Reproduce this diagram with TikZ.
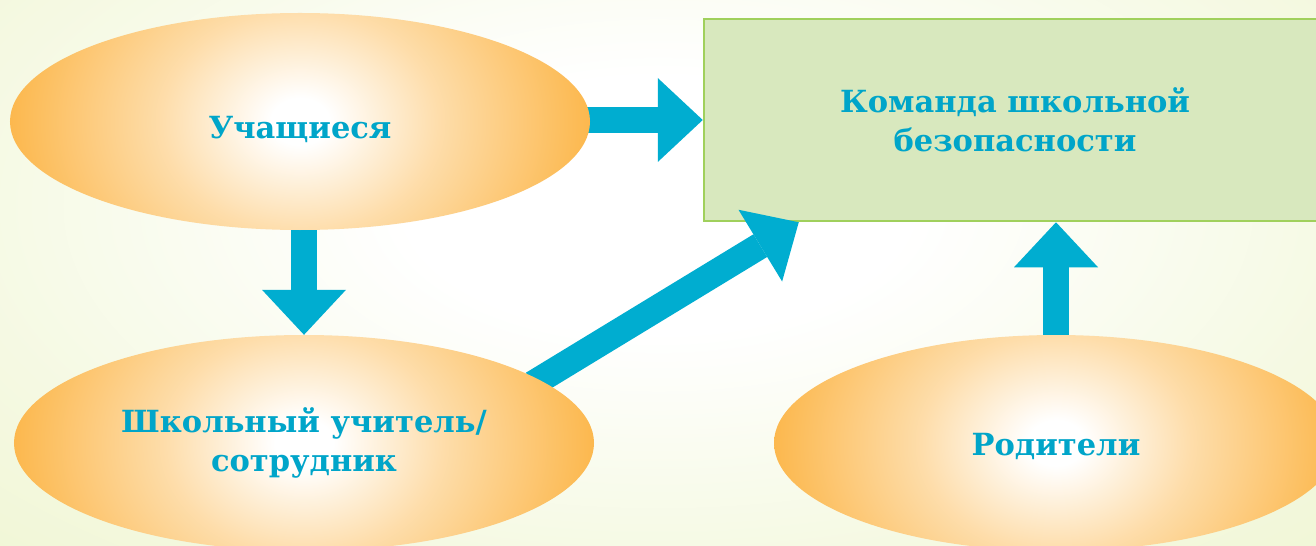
\documentclass[tikz,border=0pt]{standalone}
\usepackage{fontspec}
\setmainfont{DejaVu Serif}
\usetikzlibrary{arrows.meta,shapes.geometric,calc}

\definecolor{bggreen}{RGB}{240,246,212}
\definecolor{ovalorange}{RGB}{252,184,78}
\definecolor{arrowblue}{RGB}{0,173,208}
\definecolor{textblue}{RGB}{0,165,201}
\definecolor{boxfill}{RGB}{216,232,190}
\definecolor{boxline}{RGB}{160,208,92}

\pgfdeclareradialshading{ovalshade}{\pgfpoint{0bp}{0bp}}{color(0bp)=(white); color(2.5bp)=(white); color(12bp)=(ovalorange!48!white); color(25bp)=(ovalorange); color(50bp)=(ovalorange)}
\pgfdeclareradialshading{backshade}{\pgfpoint{0bp}{0bp}}{color(0bp)=(white); color(9bp)=(white); color(25bp)=(bggreen!65!white); color(36bp)=(bggreen); color(50bp)=(bggreen)}

\pgfdeclarelayer{back}
\pgfdeclarelayer{boxlayer}
\pgfdeclarelayer{arrowlayer}
\pgfsetlayers{back,boxlayer,arrowlayer,main}

\tikzset{
	labelfont/.style={text=textblue, font=\bfseries\fontsize{30.5bp}{38.5bp}\selectfont, align=center},
	oval/.style={ellipse, inner sep=0pt, labelfont,
		path picture={\shade[shading=ovalshade] (path picture bounding box.center)
			ellipse[x radius=#1, y radius=0.8*#1];}},
	oval/.default=290bp,
	teambox/.style={rectangle, draw=boxline, line width=2.5bp, fill=boxfill, inner sep=0pt, labelfont,
		minimum width=622bp, minimum height=202bp},
	flow/.style={draw=arrowblue, line width=26.5bp, shorten <=-8bp,
		-{Triangle[length=45bp,width=84bp,line width=0pt]}}
}

\begin{document}
\begin{tikzpicture}[x=1bp, y=-1bp]
	\useasboundingbox (0,0) rectangle (1316,546);

	% Background
	\begin{pgfonlayer}{back}
		\shade[shading=backshade] (-40,-150) rectangle (1356,560);
	\end{pgfonlayer}

	% Team box
	\begin{pgfonlayer}{boxlayer}
		\node[teambox] (team) at (1015,120) {Команда школьной\\безопасности};
	\end{pgfonlayer}

	% Ovals
	\node[oval=290bp, minimum width=580bp, minimum height=217bp, text height=40bp, text depth=5bp]
		(pupils) at (300,121.5) {Учащиеся};
	\node[oval=290bp, minimum width=580bp, minimum height=216bp]
		(staff) at (304,443) {Школьный учитель/\\сотрудник};
	\node[oval=282bp, minimum width=564bp, minimum height=216bp, text height=30bp, text depth=6bp]
		(parents) at (1056,443) {Родители};

	% Arrows
	\coordinate (hit) at ($(team.south west)+(96,0)$);
	\begin{pgfonlayer}{arrowlayer}
		\draw[flow] (pupils.east |- team.west) -- (team.west);
		\draw[flow] (pupils.south -| staff.north) -- (staff.north);
		\draw[flow] (staff.15) -- (hit);
		\draw[flow] (parents.north) -- (parents.north |- team.south);
	\end{pgfonlayer}

\end{tikzpicture}
\end{document}
